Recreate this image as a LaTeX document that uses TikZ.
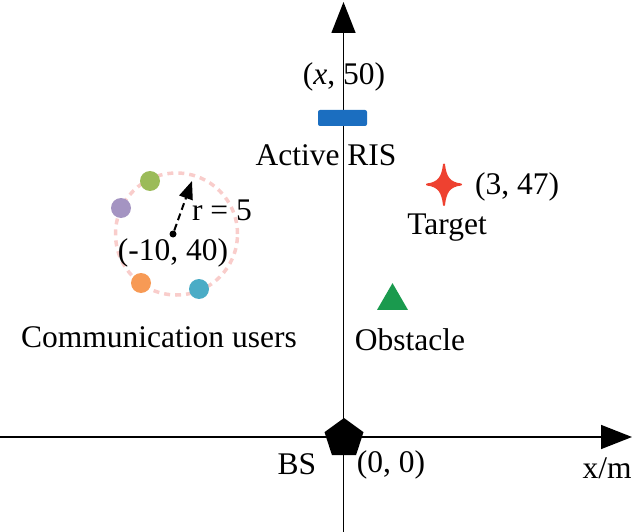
\documentclass[tikz,border=0pt]{standalone}
\usepackage{fontspec}
\setmainfont{Liberation Serif}
\newfontfamily\tnr{Liberation Serif}
\usetikzlibrary{shapes.geometric,arrows.meta}
\definecolor{risblue}{HTML}{1B6EC0}
\definecolor{tgtred}{HTML}{EE4130}
\definecolor{obsgreen}{HTML}{1A9A4E}
\definecolor{ringpink}{HTML}{F9CDCB}
\definecolor{ugreen}{HTML}{9BBB59}
\definecolor{upurple}{HTML}{A494C2}
\definecolor{uorange}{HTML}{F79A55}
\definecolor{uteal}{HTML}{4BACC6}
\tikzset{
  lbl/.style={font=\tnr\fontsize{31.5}{36}\selectfont, inner sep=0pt},
  axis/.style={line width=1.5pt, -{Triangle[width=24pt,length=31pt]}},
  user/.style={circle, minimum size=20pt, inner sep=0pt},
}
\begin{document}
\begin{tikzpicture}[x=1pt,y=-1pt]
\useasboundingbox (0,0) rectangle (632,532);
% axes
\coordinate (xl) at (0,437);
\coordinate (xr) at (632,437);
\coordinate (yb) at (343.5,532);
\coordinate (yt) at (343.5,2);
\draw[axis] (xl) -- (xr);
\draw[axis] (yb) -- (yt);
% BS
\node[regular polygon, regular polygon sides=5, minimum size=41pt, inner sep=0pt, fill=black] (bs) at (344,438.5) {};
\node[lbl] (bsl) at (297,464) {BS};
\node[lbl] (bsc) at (391,465) {(0, 0)};
\node[lbl] (xm) at (607,468) {x/m};
% RIS
\node[fill=risblue, rounded corners=2pt, minimum width=49pt, minimum height=16pt, inner sep=0pt] (ris) at (342.5,118) {};
\node[lbl] (risc) at (344,77) {(\textit{x}, 50)};
\node[lbl] (risl) at (326,155) {Active RIS};
% Target
\filldraw[tgtred, line width=2pt, line join=round] (444,164.5)
  .. controls (445.5,177) and (449,183) .. (461,184.5)
  .. controls (449,186) and (445.5,192) .. (444,205)
  .. controls (442.5,192) and (439,186) .. (427,184.5)
  .. controls (439,183) and (442.5,177) .. (444,164.5) -- cycle;
\node[inner sep=0pt, minimum size=40pt] (tgt) at (444,185) {};
\node[lbl] (tgtc) at (517,187) {(3, 47)};
\node[lbl] (tgtl) at (447,228) {Target};
% Obstacle
\node[regular polygon, regular polygon sides=3, minimum size=35.8pt, inner sep=0pt, fill=obsgreen] (obs) at (392.5,301) {};
\node[lbl] (obsl) at (410,340) {Obstacle};
% users ring
\node[circle, draw=ringpink, line width=3.5pt, dash pattern=on 6pt off 5pt, minimum size=122pt, inner sep=0pt] (ring) at (176.5,234) {};
\node[circle, fill=black, minimum size=7pt, inner sep=0pt] (cen) at (173,234) {};
\coordinate (rtip) at (192,181);
\draw[line width=2pt, dash pattern=on 7pt off 4pt, -{Triangle[width=14pt,length=18pt]}] (cen) -- (rtip);
\node[lbl] (rl) at (222,210) {r = 5};
\node[lbl] (cl) at (173,253) {(-10, 40)};
\node[user, fill=ugreen] (u1) at (150,181) {};
\node[user, fill=upurple] (u2) at (121,208) {};
\node[user, fill=uorange] (u3) at (141,283) {};
\node[user, fill=uteal] (u4) at (199,289) {};
\node[lbl] (cu) at (159,337) {Communication users};
\end{tikzpicture}
\end{document}
